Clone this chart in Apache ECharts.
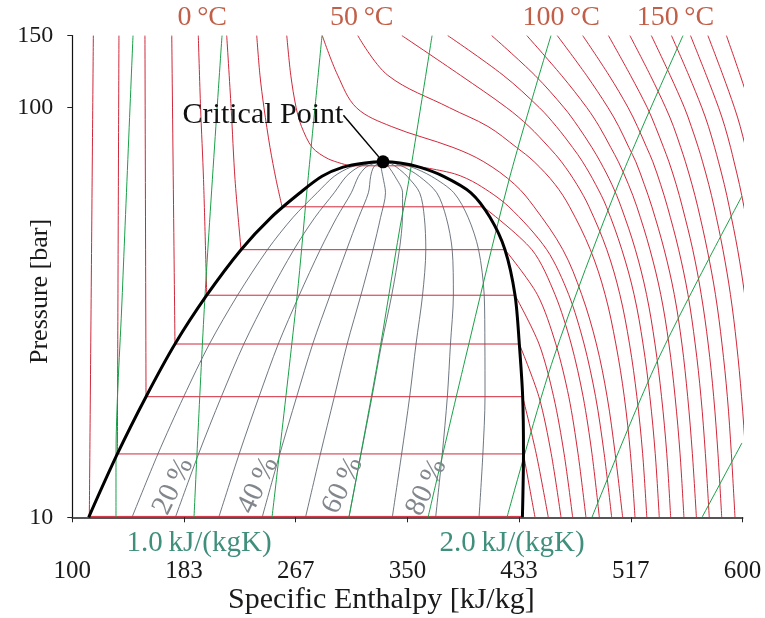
<!DOCTYPE html>
<html><head><meta charset="utf-8">
<script src="https://cdn.jsdelivr.net/npm/echarts@6/dist/echarts.min.js"></script>
<style>html,body{margin:0;padding:0;background:#fff}#c{width:765px;height:618px}</style>
</head><body><div id="c"></div>
<script>
// ---------------- data (h in kJ/kg, p in bar) ----------------
const X_TICKS = [100, 183.3333, 266.6667, 350, 433.3333, 516.6667, 600];
const Y_TICKS = [10, 100, 150];

// saturation states of the drawn isotherms (two-phase part)
const SAT_T  = [-40, -30, -20, -10, 0, 10, 20, 30];
const SAT_P  = [10.05, 14.28, 19.70, 26.49, 34.85, 45.02, 57.29, 72.14];
const SAT_HL = [112.7, 133.6, 155.0, 176.6, 200.3, 225.9, 256.5, 307.0];
const SAT_HV = [435.7, 436.6, 436.0, 433.5, 430.3, 422.8, 406.5, 355.0];

// saturation dome
const DOME_P  = [10.0, 14.28, 19.70, 26.49, 34.85, 45.02, 54.0, 62.0, 68.0, 71.6, 73.3, 73.77];
const DOME_HL = [112.2, 133.6, 155.0, 176.6, 200.3, 225.9, 248.4, 269.9, 286.3, 302.0, 318.4, 331.8];
const DOME_HV = [435.8, 436.6, 436.0, 433.5, 430.3, 422.8, 411.6, 397.4, 377.0, 359.0, 344.5, 331.8];
const CRIT_H = 331.8, CRIT_P = 73.77;

// vapour quality lines
const QUALITY = [0.1, 0.2, 0.3, 0.4, 0.5, 0.6, 0.7, 0.8, 0.9];
const QUALITY_LABELED = [0.2, 0.4, 0.6, 0.8];

// liquid-side isotherms [p, h] from 150 bar down to saturation
const LIQ_M40 = [[150,115.7],[10.05,112.7]];
const LIQ_M30 = [[150,134.8],[14.28,133.6]];
const LIQ_M20 = [[150,154.2],[19.70,155.0]];
const LIQ_M10 = [[150,174.2],[26.49,176.6]];
const LIQ_0   = [[150,194.0],[100,195.7],[66.8,197.9],[34.85,200.3]];
const LIQ_10  = [[150,215.2],[100,218.5],[66.8,221.4],[45.02,225.9]];
const LIQ_20  = [[150,237.6],[120,240.0],[100,243.0],[80,247.5],[66.8,252.0],[57.29,256.5]];
const LIQ_30  = [[150,260.0],[120,263.0],[100,267.0],[90,271.0],[80,279.0],[75,291.0],[72.14,307.0]];

// vapour-side isotherms [p, h] from saturation down to 10 bar
const VAP_M40 = [];
const VAP_M30 = [[14.28,436.6],[10,445.2]];
const VAP_M20 = [[19.70,436.0],[14.3,446.1],[10,455.1]];
const VAP_M10 = [[26.49,433.5],[19.7,448.1],[14.3,457.3],[10,464.6]];
const VAP_0   = [[34.85,430.3],[26.5,448.2],[19.7,459.1],[14.3,466.9],[10,473.3]];
const VAP_10  = [[45.02,422.8],[35,446.9],[26.5,460.7],[19.7,470.4],[14.3,477.3],[10,483.2]];
const VAP_20  = [[57.29,406.5],[45,442.9],[35,460.1],[26.5,472.2],[19.7,481.1],[14.3,487.7],[10,493.2]];
const VAP_30  = [[72.14,355.0],[69,385.0],[65,402.5],[57.3,425.7],[45,454.0],[35,470.3],[26.5,481.8],[19.7,490.4],[14.3,496.8],[10,502.4]];

// supercritical / hot isotherms: h at the pressures of SC_P
const SC_P = [150, 120, 100, 90, 80, 73.8, 65, 57.3, 45, 35, 26.5, 19.7, 14.3, 10];
const SC_T = [40, 50, 60, 70, 80, 90, 100, 110, 120, 130, 140, 150, 160, 170, 180];
const SC_H40  = [286.5, 298.0, 312.0, 338.0, 384.0, 407.0, 430.0, 444.5, 466.0, 480.0, 491.0, 499.0, 505.0, 510.6];
const SC_H50  = [313.0, 335.4, 381.4, 410.1, 431.4, 444.6, 460.1, 471.0, 486.5, 497.5, 505.5, 511.8, 516.4, 519.8];
const SC_H60  = [345.9, 389.6, 424.1, 440.7, 455.7, 464.9, 476.4, 485.5, 498.8, 508.5, 515.7, 521.2, 525.5, 528.6];
const SC_H70  = [380.1, 421.5, 448.5, 461.1, 473.2, 480.7, 490.4, 498.5, 510.0, 519.1, 525.8, 530.9, 534.9, 537.9];
const SC_H80  = [412.9, 445.1, 466.9, 477.3, 487.6, 493.9, 502.5, 509.4, 520.1, 528.4, 534.7, 539.6, 543.5, 546.4];
const SC_H90  = [439.1, 464.9, 483.9, 493.1, 501.7, 507.4, 514.9, 521.2, 531.0, 539.0, 545.1, 549.7, 553.4, 556.3];
const SC_H100 = [461.8, 483.6, 499.7, 507.7, 515.2, 520.4, 526.7, 532.4, 541.6, 549.1, 554.8, 559.1, 562.6, 565.6];
const SC_H110 = [480.8, 500.4, 514.7, 521.6, 528.5, 533.1, 538.9, 544.0, 552.4, 559.3, 564.7, 569.0, 572.3, 575.2];
const SC_H120 = [500.0, 516.4, 529.0, 535.0, 541.1, 545.1, 550.5, 555.1, 562.9, 569.2, 574.4, 578.5, 581.7, 584.5];
const SC_H130 = [516.0, 531.2, 542.7, 548.5, 553.9, 557.4, 562.3, 566.6, 573.7, 579.8, 584.7, 588.7, 591.7, 594.4];
const SC_H140 = [532.0, 546.0, 556.7, 561.8, 567.0, 570.2, 574.8, 578.8, 585.4, 591.0, 595.6, 599.3, 602.3, 604.8];
const SC_H150 = [547.0, 559.9, 569.7, 574.6, 579.2, 582.1, 586.4, 590.1, 596.4, 601.6, 605.9, 609.5, 612.2, 614.6];
const SC_H160 = [561.2, 573.0, 582.2, 586.8, 591.1, 593.7, 597.7, 601.1, 607.2, 612.1, 616.1, 619.5, 622.1, 624.4];
const SC_H170 = [574.2, 585.4, 594.0, 598.3, 602.3, 604.9, 608.6, 612.1, 617.7, 622.3, 626.1, 629.4, 631.9, 634.1];
const SC_H180 = [588.0, 598.3, 606.2, 610.3, 614.0, 616.4, 619.8, 623.1, 628.4, 632.7, 636.3, 639.3, 641.7, 643.8];

// isentropes [p, h]
const S_VALUES = [0.75, 1.0, 1.25, 1.5, 1.75, 2.0, 2.25, 2.5];
const S_075 = [[10,132.6],[14.19,132.6],[33.9,137.1],[150,145.3]];
const S_100 = [[10,190.8],[34.7,199.0],[150,211.7]];
const S_125 = [[10,249.0],[34.7,267.7],[63.0,275.1],[150,286.3]];
const S_150 = [[10,306.4],[24.24,328.1],[51.1,344.5],[64.8,350.5],[150,368.4]];
const S_175 = [[10,365.4],[24.24,393.0],[66.6,425.8],[150,457.1]];
const S_200 = [[10,424.3],[24.24,458.6],[66.6,508.6],[150,555.6]];
const S_225 = [[10,487.7],[24.24,536.9],[60.85,599.6]];
const S_250 = [[10,569.8],[15.19,599.6]];
const S_LABELED = [1.0, 2.0];

const T_LABELED = [0, 50, 100, 150];

// ---------------- build ----------------
const FONT = "'Liberation Serif','DejaVu Serif',serif";
const RED = '#d0283a', GREEN = '#1aa048', GREY = '#5d6873';
const ph = arr => arr.map(([p, h]) => [h, p]);

const LIQ = [LIQ_M40, LIQ_M30, LIQ_M20, LIQ_M10, LIQ_0, LIQ_10, LIQ_20, LIQ_30];
const VAP = [VAP_M40, VAP_M30, VAP_M20, VAP_M10, VAP_0, VAP_10, VAP_20, VAP_30];
const SC_H = [SC_H40, SC_H50, SC_H60, SC_H70, SC_H80, SC_H90, SC_H100, SC_H110, SC_H120, SC_H130, SC_H140, SC_H150, SC_H160, SC_H170, SC_H180];
const S_LINES = [S_075, S_100, S_125, S_150, S_175, S_200, S_225, S_250];

const base = {type: 'line', symbol: 'none', silent: true, animation: false, clip: true};
const series = [];

// quality lines
QUALITY.forEach(q => {
  const d = DOME_P.map((p, i) => [DOME_HL[i] + q * (DOME_HV[i] - DOME_HL[i]), p]);
  series.push(Object.assign({}, base, {data: d, smooth: 0.3, z: 1,
    lineStyle: {color: GREY, width: 0.9}}));
});

// isotherms
SAT_T.forEach((T, i) => {
  series.push(Object.assign({}, base, {data: ph(LIQ[i]), smooth: 0.3, z: 2, lineStyle: {color: RED, width: 1}}));
  series.push(Object.assign({}, base, {data: [[SAT_HL[i], SAT_P[i]], [SAT_HV[i], SAT_P[i]]], z: 2, lineStyle: {color: RED, width: 1}}));
  if (VAP[i].length) series.push(Object.assign({}, base, {data: ph(VAP[i]), smooth: 0.3, z: 2, lineStyle: {color: RED, width: 1}}));
});
SC_T.forEach((T, i) => {
  series.push(Object.assign({}, base, {data: SC_P.map((p, k) => [SC_H[i][k], p]), smooth: 0.35, z: 2,
    lineStyle: {color: RED, width: 1}}));
});

// isentropes
S_LINES.forEach(l => {
  series.push(Object.assign({}, base, {data: ph(l), smooth: 0.3, z: 3, lineStyle: {color: GREEN, width: 1}}));
});

// dome
const domeData = DOME_P.map((p, i) => [DOME_HL[i], p]).concat(
  DOME_P.slice().reverse().slice(1).map((p, k) => [DOME_HV[DOME_P.length - 2 - k], p]));
series.push(Object.assign({}, base, {data: domeData, smooth: 0.3, z: 5, lineStyle: {color: '#000', width: 3}}));

// critical point
series.push({type: 'scatter', silent: true, animation: false, z: 6,
  data: [[CRIT_H, CRIT_P]], symbolSize: 13, itemStyle: {color: '#000', opacity: 1},
  label: {show: true, formatter: 'Critical Point', position: 'top', distance: 5,
    fontFamily: FONT, fontSize: 30, color: '#111', textBorderWidth: 0},
  labelLayout: {dx: -120, dy: -20},
  labelLine: {show: true, lineStyle: {color: '#000', width: 1.5, opacity: 1}}
});

// temperature labels at top end of isotherms
const tempLabelData = T_LABELED.map(T => {
  const j = SAT_T.indexOf(T);
  if (j >= 0) return {value: [LIQ[j][0][1], LIQ[j][0][0]], name: T};
  const k = SC_T.indexOf(T);
  return {value: [SC_H[k][0], SC_P[0]], name: T};
});
series.push({type: 'scatter', silent: true, animation: false, symbolSize: 0, data: tempLabelData,
  itemStyle: {opacity: 1},
  label: {show: true, position: 'top', distance: 4, offset: [4, 0], formatter: p => p.name + '\u2009°C',
    fontFamily: FONT, fontSize: 28, color: '#c25f48'}});

// entropy labels at bottom end of isentropes
const sLabelData = S_LABELED.map(s => {
  const l = S_LINES[S_VALUES.indexOf(s)];
  return {value: [l[0][1], l[0][0]], name: s.toFixed(1)};
});
series.push({type: 'scatter', silent: true, animation: false, symbolSize: 0, data: sLabelData,
  itemStyle: {opacity: 1},
  label: {show: true, position: 'bottom', distance: 12, offset: [5, 0], formatter: p => p.name + '\u2009kJ/(kgK)',
    fontFamily: FONT, fontSize: 29, color: '#3f8f7c'}});

// quality labels near the bottom of quality lines (screen shift converted to rotated frame)
const Q_ROT = 64, Q_SHIFT = [[-2, -31], [-4, -32], [-6, -32], [-9, -30]];
const qLabelData = QUALITY_LABELED.map((q, i) => {
  const th = Q_ROT * Math.PI / 180, dx = Q_SHIFT[i][0], dy = Q_SHIFT[i][1];
  return {value: [DOME_HL[0] + q * (DOME_HV[0] - DOME_HL[0]), DOME_P[0]], name: Math.round(q * 100),
    label: {offset: [dx * Math.cos(th) - dy * Math.sin(th), dx * Math.sin(th) + dy * Math.cos(th)]}};
});
series.push({type: 'scatter', silent: true, animation: false, symbolSize: 0, data: qLabelData, z: 4,
  itemStyle: {opacity: 1},
  label: {show: true, position: 'inside', rotate: Q_ROT, formatter: p => p.name + '\u2009%',
    fontFamily: FONT, fontSize: 29, color: '#82878e', textBorderWidth: 0}});

const chart = echarts.init(document.getElementById('c'), null, {renderer: 'canvas'});
chart.setOption({
  animation: false,
  backgroundColor: '#fff',
  grid: {left: 72.3, right: 22.5, top: 35.6, bottom: 100.7, outerBoundsMode: 'none'},
  xAxis: {type: 'value', min: 100, max: 600,
    name: 'Specific Enthalpy [kJ/kg]', nameLocation: 'middle', nameGap: 68, nameMoveOverlap: false,
    nameTextStyle: {fontFamily: FONT, fontSize: 30, color: '#1a1a1a', padding: [0, 52, 0, 0]},
    axisLine: {show: true, lineStyle: {color: '#555', width: 2}},
    axisTick: {show: true, customValues: X_TICKS, length: 5, lineStyle: {color: '#222'}},
    axisLabel: {customValues: X_TICKS, formatter: v => String(Math.round(v)), margin: 42,
      fontFamily: FONT, fontSize: 25, color: '#1a1a1a'},
    splitLine: {show: false}},
  yAxis: {type: 'log', logBase: 10, min: 10, max: 150,
    name: 'Pressure [bar]', nameLocation: 'middle', nameGap: 19, nameMoveOverlap: false,
    nameTextStyle: {fontFamily: FONT, fontSize: 26, color: '#1a1a1a', padding: [0, 30, 0, 0]},
    axisLine: {show: true, lineStyle: {color: '#111', width: 1.2}},
    axisTick: {show: true, customValues: Y_TICKS, length: 5, lineStyle: {color: '#222'}},
    axisLabel: {customValues: Y_TICKS, margin: 19, fontFamily: FONT, fontSize: 24, color: '#1a1a1a'},
    splitLine: {show: false}, minorTick: {show: false}, minorSplitLine: {show: false}},
  series: series
});
</script></body></html>
